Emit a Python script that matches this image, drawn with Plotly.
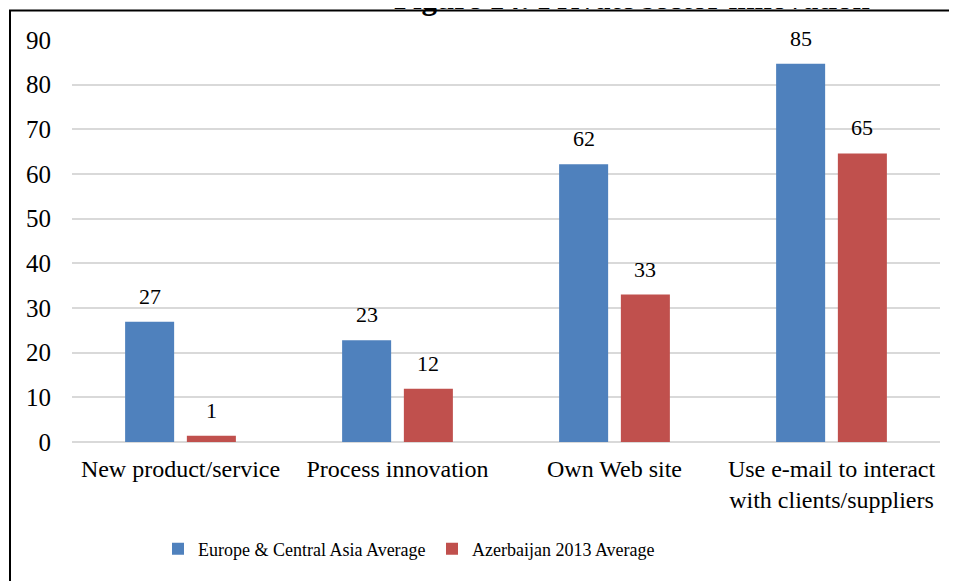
import plotly.graph_objects as go

categories = ["New product/service", "Process innovation", "Own Web site",
              "Use e-mail to interact<br>with clients/suppliers"]
eca_values = [26.9, 22.8, 62.2, 84.7]
aze_values = [1.4, 11.9, 33.0, 64.6]
series_names = ["Europe & Central Asia Average", "Azerbaijan 2013 Average"]
colors = ["#4F81BD", "#C0504D"]
y_ticks = [0, 10, 20, 30, 40, 50, 60, 70, 80, 90]
title_text = "Figure 14: Private sector innovation"

FONT = "Liberation Serif"

OFF = 8  # page body margin in the browser
W, H = 957, 581
ML, MT = 72 - OFF, 40 - OFF
pw, ph = 868, 402
MR = W - ML - pw
MB = H - MT - ph

def px_to_paper_x(px):
    return (px - OFF - ML) / pw

def px_to_paper_y(py):
    return (MT + ph - (py - OFF)) / ph

fig = go.Figure()
for name, vals, col in zip(series_names, [eca_values, aze_values], colors):
    fig.add_trace(go.Bar(
        x=categories, y=vals, name=name,
        marker=dict(color=col, line=dict(width=0)),
    ))

# value labels above bars
slot_px = (1 - 0.431) * (pw / len(categories)) / 2
annotations = []
for i, vals in enumerate([eca_values, aze_values]):
    shift = (i - 0.5) * slot_px
    for c, v in zip(categories, vals):
        annotations.append(dict(
            x=c, y=v, xref="x", yref="y", text=f"{v:.0f}", showarrow=False,
            xshift=shift, yshift=11, yanchor="bottom",
            font=dict(family=FONT, size=22, color="#000000"),
        ))

annotations.append(dict(
    x=px_to_paper_x(631.5), y=px_to_paper_y(18), xref="paper", yref="paper",
    text=f"<b>{title_text}</b>", showarrow=False, xanchor="center", yanchor="bottom",
    font=dict(family=FONT, size=31, color="#000000"),
))

fig.update_layout(
    width=W, height=H,
    margin=dict(l=ML, r=MR, t=MT, b=MB, autoexpand=False),
    paper_bgcolor="white", plot_bgcolor="white",
    font=dict(family=FONT, size=22, color="#000000"),
    barmode="group", bargap=0.431, bargroupgap=0.206,
    showlegend=True,
    legend=dict(orientation="h", x=px_to_paper_x(158), xanchor="left",
                y=px_to_paper_y(549), yanchor="middle",
                font=dict(family=FONT, size=18, color="#000000"), itemclick=False,
                entrywidth=229, entrywidthmode="pixels"),
    annotations=annotations,
    shapes=[dict(type="rect", xref="paper", yref="paper",
                 x0=px_to_paper_x(10), x1=px_to_paper_x(1000),
                 y0=px_to_paper_y(640), y1=px_to_paper_y(10.5),
                 line=dict(color="#000000", width=2), layer="above")],
)
fig.update_xaxes(showgrid=False, showline=False, ticks="", ticklabelstandoff=10,
                 tickfont=dict(family=FONT, size=24, color="#000000"))
fig.update_yaxes(range=[0, 90], tickvals=y_ticks, showgrid=True, gridcolor="#D9D9D9",
                 gridwidth=1.5, zeroline=True, zerolinecolor="#D9D9D9", zerolinewidth=1.5,
                 showline=False, ticks="", ticklabelstandoff=20,
                 tickfont=dict(family=FONT, size=25, color="#000000"))

fig.write_html("out.html")
